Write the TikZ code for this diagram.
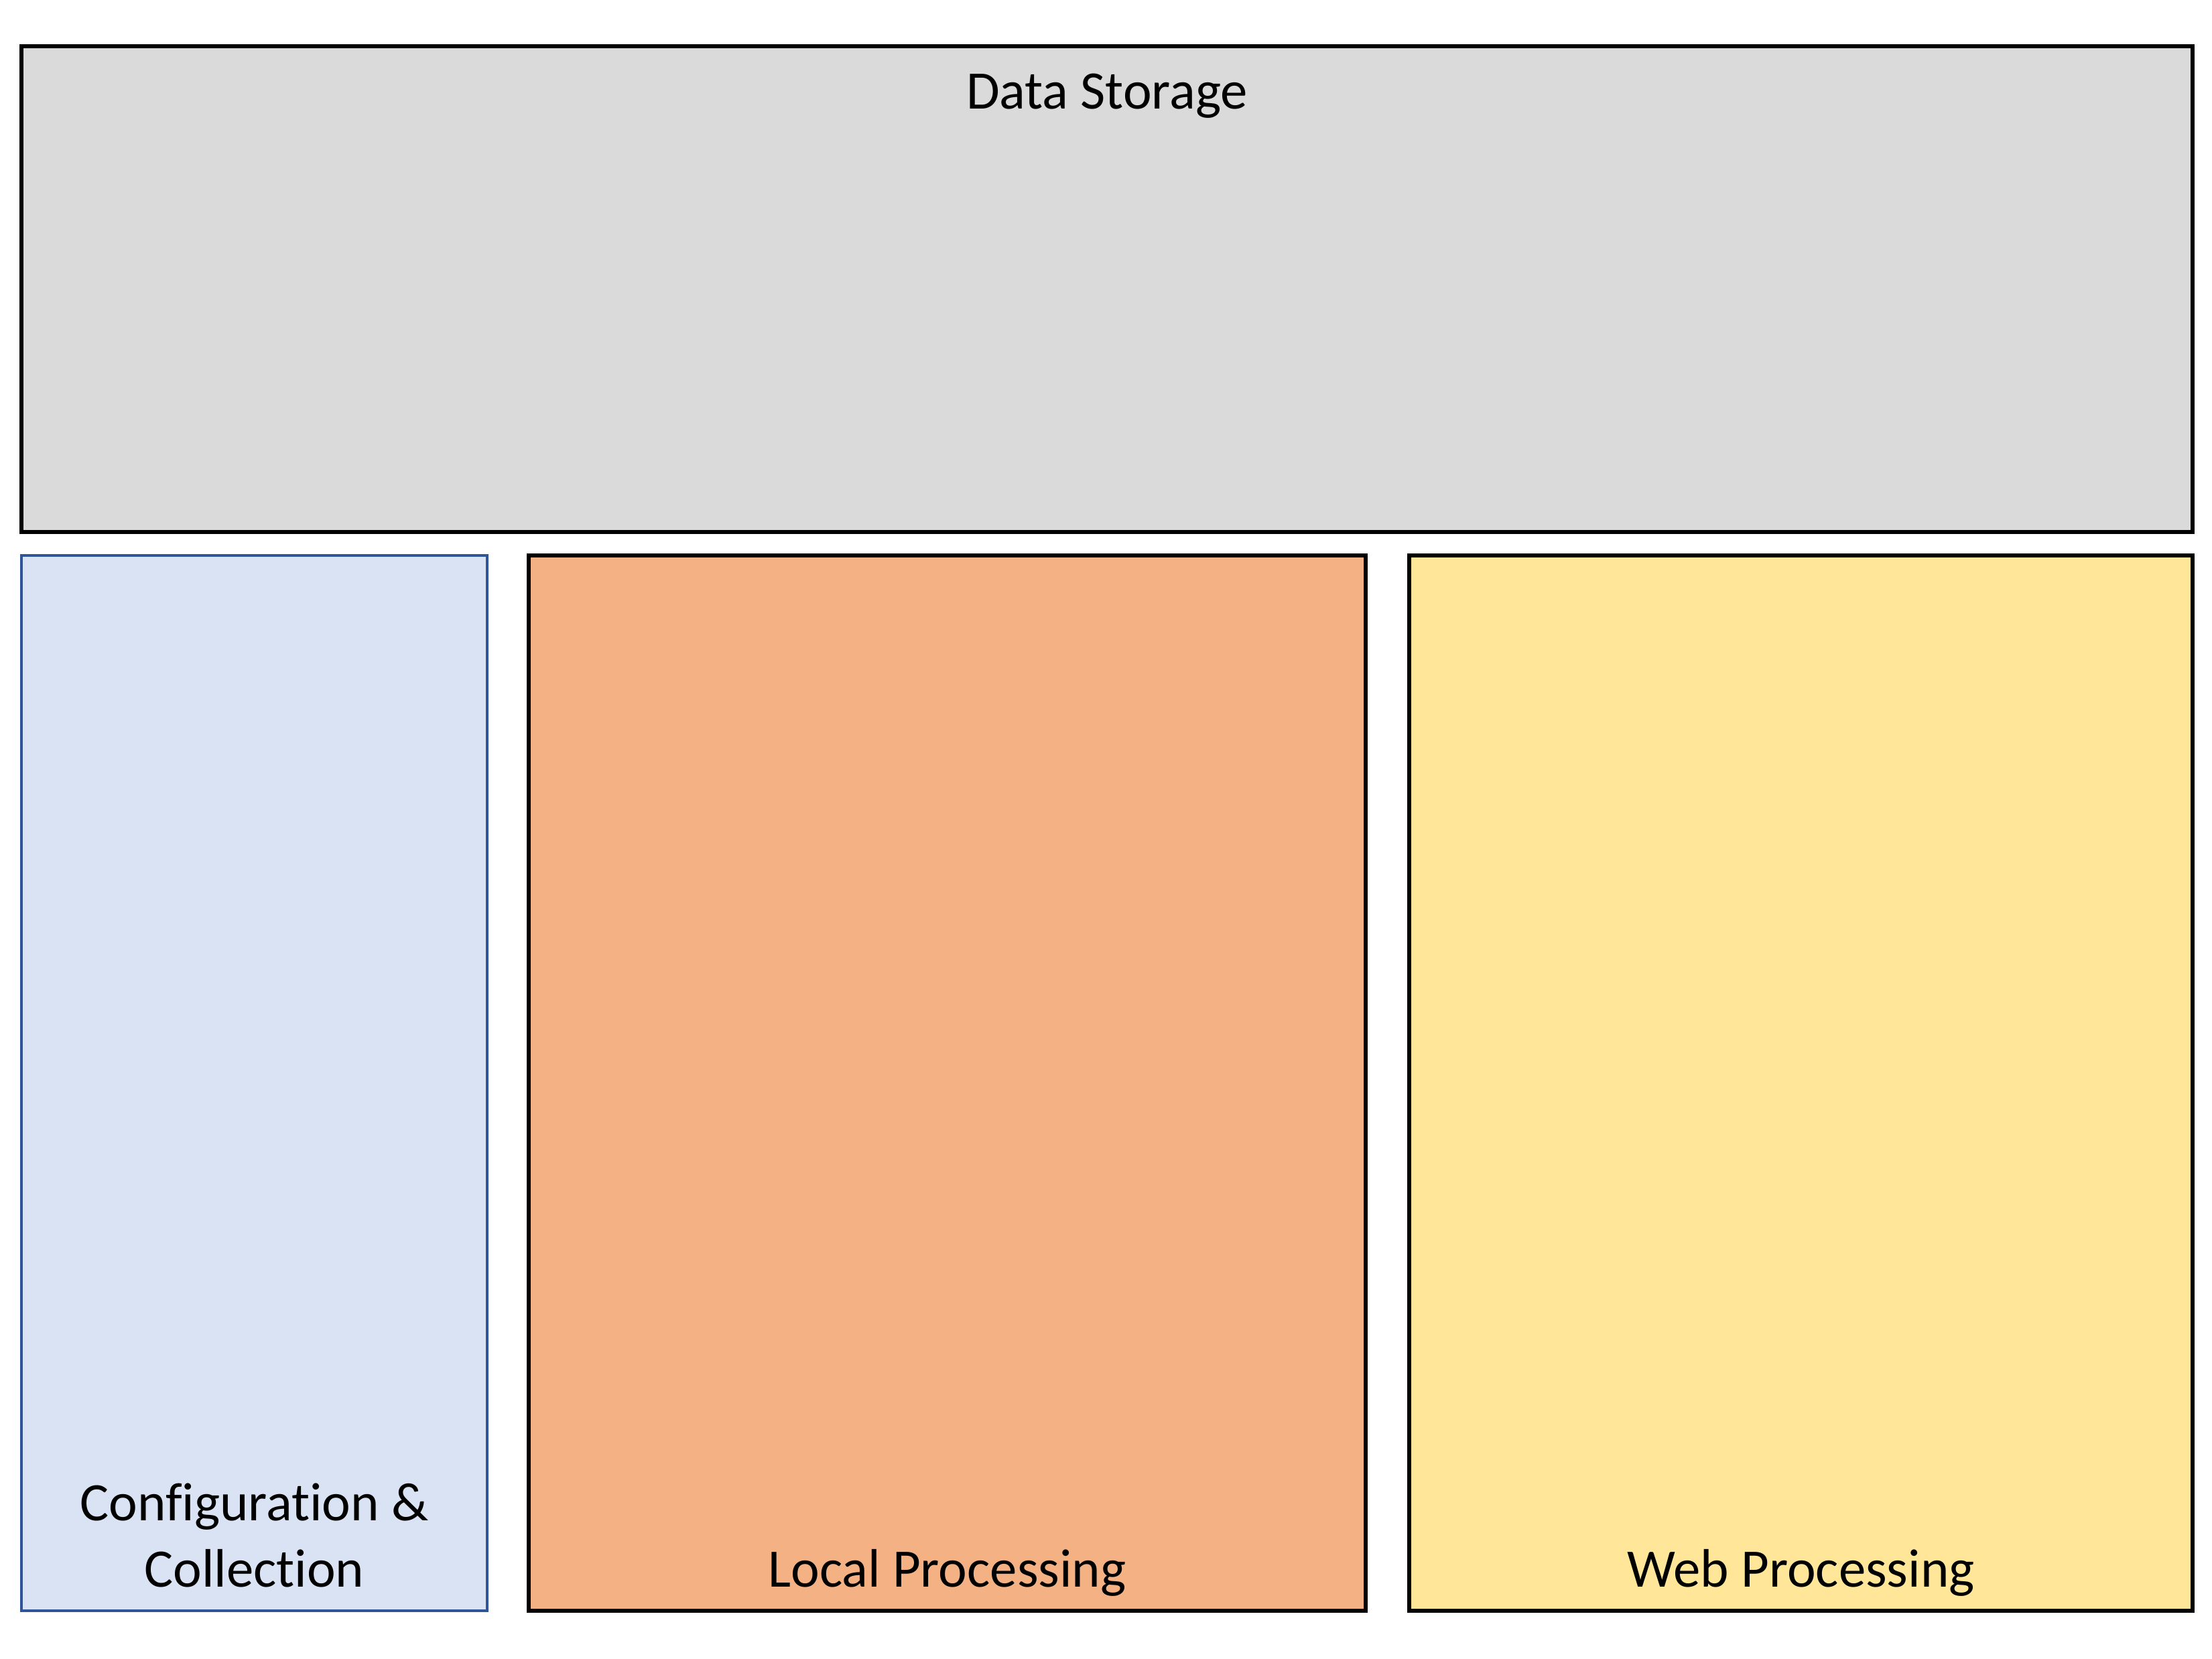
\documentclass[tikz,border=0pt]{standalone}
\usepackage{fontspec}
\setmainfont{Carlito}[Ligatures=NoCommon]
\usetikzlibrary{positioning}
\definecolor{storagegray}{HTML}{DADADA}
\definecolor{configblue}{HTML}{DAE3F3}
\definecolor{configedge}{HTML}{2F5597}
\definecolor{localorange}{HTML}{F4B183}
\definecolor{webyellow}{HTML}{FFE699}
\begin{document}
\begin{tikzpicture}[on grid,
    block/.style={rectangle, draw, line width=1.5pt, inner sep=0pt, outer sep=0pt, anchor=north west},
    caption/.style={font=\fontsize{23}{28}\selectfont, align=center, anchor=base}
    ]
    \useasboundingbox (0,0) rectangle (33.01,-24.76);
    % boxes
    \node[block, fill=storagegray, minimum width=32.40cm, minimum height=7.25cm] (storage) at (0.32,-0.69) {};
    \node[block, fill=configblue, draw=configedge, line width=0.9pt, minimum width=6.95cm, minimum height=15.75cm] (config) at (0.32,-8.29) {};
    \node[block, fill=localorange, minimum width=12.49cm, minimum height=15.75cm] (local) at (7.89,-8.29) {};
    \node[block, fill=webyellow, minimum width=11.69cm, minimum height=15.75cm] (web) at (21.03,-8.29) {};
    % labels
    \node[caption] (storagetxt) [below=0.93cm of storage.north, anchor=base] {Data Storage};
    \node[caption] (configtxt) [above=0.36cm of config.south, anchor=base] {Configuration \&\\Collection};
    \node[caption] (localtxt) [above=0.36cm of local.south, anchor=base] {Local Processing};
    \node[caption] (webtxt) [above=0.36cm of web.south, anchor=base] {Web Processing};
\end{tikzpicture}
\end{document}
